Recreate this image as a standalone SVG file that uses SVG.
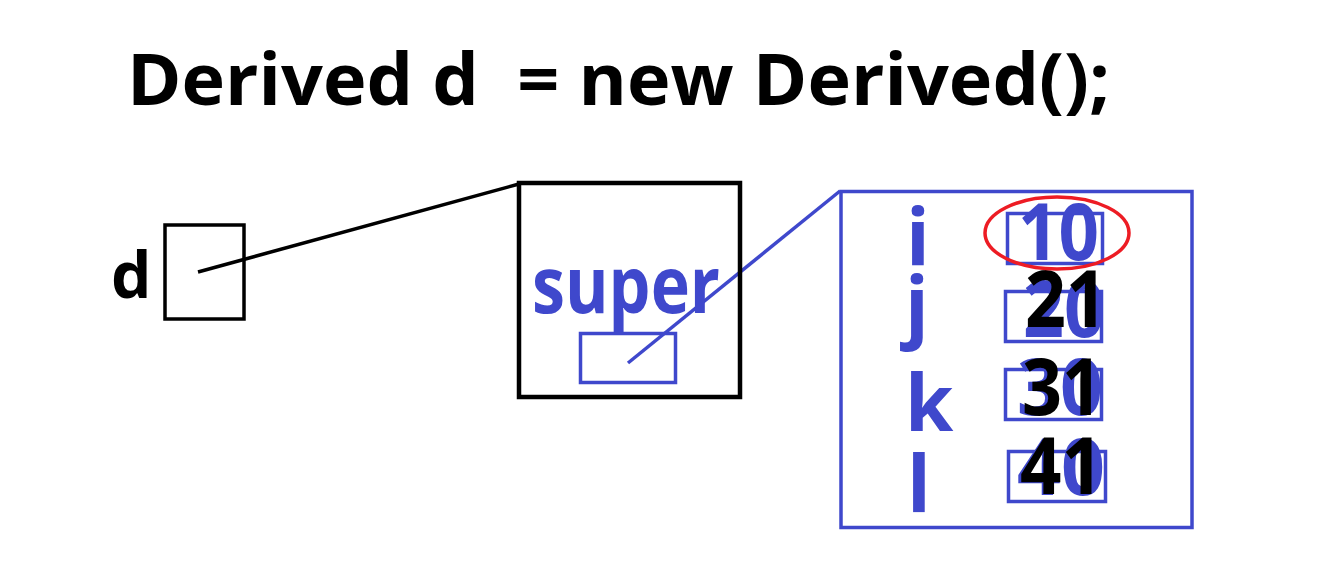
<svg xmlns="http://www.w3.org/2000/svg" width="1329" height="565" viewBox="0 0 1329 565">
<style>
.t{font-family:"Open Sans","Liberation Sans",sans-serif;font-weight:bold}
.blk{fill:#000}
.blu{fill:#3F48CC}
.bbox{fill:none;stroke:#3F48CC;stroke-width:3.5}
.kbox{fill:none;stroke:#000}
</style>
<rect width="1329" height="565" fill="#fff"/>
<g id="title"><text class="t blk" x="127" y="105" font-size="72" textLength="983" lengthAdjust="spacingAndGlyphs" xml:space="preserve" style="white-space:pre">Derived d  = new Derived();</text></g>
<g id="connectors">
<line x1="198" y1="272" x2="519" y2="184" stroke="#000" stroke-width="3.5"/>
<line x1="628" y1="363" x2="840" y2="191" stroke="#3F48CC" stroke-width="3.5"/>
</g>
<g id="ref-d">
<text class="t blk" x="111" y="298" font-size="64">d</text>
<rect class="kbox" x="165" y="225" width="79" height="94" stroke-width="3.5"/>
</g>
<g id="derived-obj">
<rect class="kbox" x="519" y="183" width="221" height="214" stroke-width="4.5"/>
<text class="t blu" x="532" y="313" font-size="78" textLength="188" lengthAdjust="spacingAndGlyphs">super</text>
<rect class="bbox" x="580.5" y="333.5" width="95" height="49"/>
</g>
<g id="base-obj">
<rect class="bbox" x="841" y="191.5" width="351" height="336"/>
<g class="t blu" font-size="78">
<text x="906" y="265">i</text>
<text x="905" y="333">j</text>
<text x="905" y="431">k</text>
<text x="907" y="512">l</text>
</g>
<rect class="bbox" x="1007.5" y="213.5" width="95" height="50"/>
<rect class="bbox" x="1005.5" y="291.5" width="96" height="50"/>
<rect class="bbox" x="1005.5" y="369.5" width="96" height="50"/>
<rect class="bbox" x="1008.5" y="451.5" width="97" height="50"/>
<g class="t blu" font-size="78">
<text x="1018" y="260" textLength="81" lengthAdjust="spacingAndGlyphs">10</text>
<text x="1023" y="337" textLength="82" lengthAdjust="spacingAndGlyphs">20</text>
<text x="1017" y="415" textLength="86" lengthAdjust="spacingAndGlyphs">30</text>
<text x="1017" y="495" textLength="88" lengthAdjust="spacingAndGlyphs">40</text>
</g>
<g class="t blk" font-size="78">
<text x="1025" y="327" textLength="82" lengthAdjust="spacingAndGlyphs">21</text>
<text x="1022" y="415" textLength="80" lengthAdjust="spacingAndGlyphs">31</text>
<text x="1020" y="494" textLength="83" lengthAdjust="spacingAndGlyphs">41</text>
</g>
<ellipse cx="1057" cy="233" rx="72" ry="36" fill="none" stroke="#ED1C24" stroke-width="3.5"/>
</g>
</svg>
